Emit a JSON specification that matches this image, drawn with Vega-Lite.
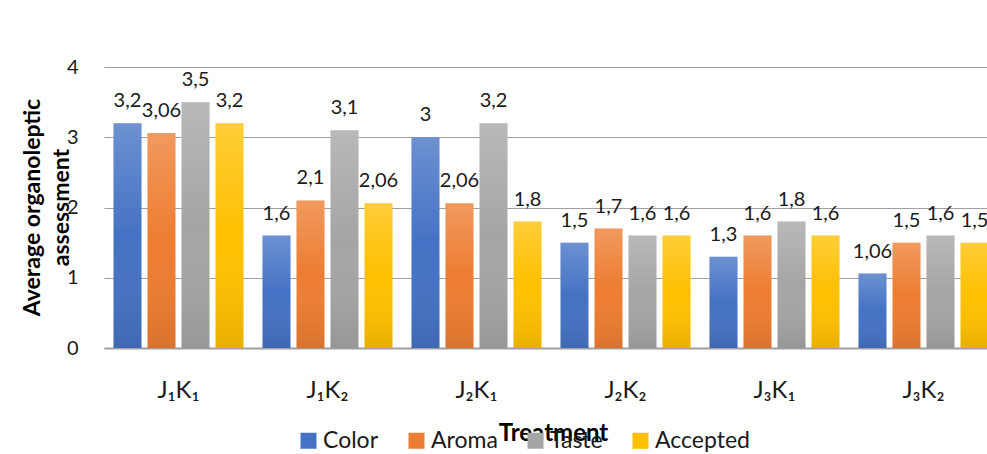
{
  "$schema": "https://vega.github.io/schema/vega-lite/v6.json",
  "width": 883,
  "height": 281,
  "autosize": {"type": "none"},
  "padding": {"left": 104, "top": 67, "right": 0, "bottom": 106},
  "background": "white",
  "data": {
    "values": [
      {"treatment": "J₁K₁", "series": "Color", "value": 3.2},
      {"treatment": "J₁K₁", "series": "Aroma", "value": 3.06},
      {"treatment": "J₁K₁", "series": "Taste", "value": 3.5},
      {"treatment": "J₁K₁", "series": "Accepted", "value": 3.2},
      {"treatment": "J₁K₂", "series": "Color", "value": 1.6},
      {"treatment": "J₁K₂", "series": "Aroma", "value": 2.1},
      {"treatment": "J₁K₂", "series": "Taste", "value": 3.1},
      {"treatment": "J₁K₂", "series": "Accepted", "value": 2.06},
      {"treatment": "J₂K₁", "series": "Color", "value": 3},
      {"treatment": "J₂K₁", "series": "Aroma", "value": 2.06},
      {"treatment": "J₂K₁", "series": "Taste", "value": 3.2},
      {"treatment": "J₂K₁", "series": "Accepted", "value": 1.8},
      {"treatment": "J₂K₂", "series": "Color", "value": 1.5},
      {"treatment": "J₂K₂", "series": "Aroma", "value": 1.7},
      {"treatment": "J₂K₂", "series": "Taste", "value": 1.6},
      {"treatment": "J₂K₂", "series": "Accepted", "value": 1.6},
      {"treatment": "J₃K₁", "series": "Color", "value": 1.3},
      {"treatment": "J₃K₁", "series": "Aroma", "value": 1.6},
      {"treatment": "J₃K₁", "series": "Taste", "value": 1.8},
      {"treatment": "J₃K₁", "series": "Accepted", "value": 1.6},
      {"treatment": "J₃K₂", "series": "Color", "value": 1.06},
      {"treatment": "J₃K₂", "series": "Aroma", "value": 1.5},
      {"treatment": "J₃K₂", "series": "Taste", "value": 1.6},
      {"treatment": "J₃K₂", "series": "Accepted", "value": 1.5}
    ]
  },
  "encoding": {
    "x": {
      "field": "treatment",
      "type": "nominal",
      "sort": null,
      "scale": {"range": [0, 894], "paddingInner": 0, "paddingOuter": 0},
      "axis": {
        "title": "Treatment",
        "titleFont": "Lato",
        "titleFontWeight": "bold",
        "titleFontSize": 24,
        "titleColor": "#000000",
        "titleX": 449,
        "titleY": 85,
        "titleAnchor": "start",
        "titleAlign": "center",
        "titleBaseline": "middle",
        "labelFont": "Lato",
        "labelFontSize": 24,
        "labelColor": "#1a1a1a",
        "labelPadding": 30,
        "labelAngle": 0,
        "ticks": false,
        "domainColor": "#a0a0a0",
        "domainWidth": 2,
        "grid": false
      }
    },
    "xOffset": {
      "field": "series",
      "type": "nominal",
      "sort": ["Color", "Aroma", "Taste", "Accepted"],
      "scale": {"paddingInner": 0.1765, "paddingOuter": 0.279}
    },
    "y": {
      "field": "value",
      "type": "quantitative",
      "scale": {"domain": [0, 4], "nice": false},
      "axis": {
        "values": [0, 1, 2, 3, 4],
        "format": "d",
        "title": ["Average organoleptic", "assessment"],
        "titleFont": "Lato",
        "titleFontWeight": "bold",
        "titleFontSize": 23,
        "titleColor": "#000000",
        "titleAngle": -90,
        "titleX": -72,
        "titleY": 140,
        "titleAlign": "center",
        "titleBaseline": "middle",
        "titleLineHeight": 29,
        "labelFont": "Lato",
        "labelFontSize": 20,
        "labelColor": "#1a1a1a",
        "labelPadding": 26,
        "ticks": false,
        "domain": false,
        "grid": true,
        "gridColor": "#a0a0a0",
        "gridWidth": 1
      }
    }
  },
  "layer": [
    {
      "mark": {"type": "bar"},
      "encoding": {
        "y2": {"datum": 0},
        "color": {
          "field": "series",
          "type": "nominal",
          "sort": ["Color", "Aroma", "Taste", "Accepted"],
          "scale": {
            "domain": ["Color", "Aroma", "Taste", "Accepted"],
            "range": ["#4472C4", "#ED7D31", "#A5A5A5", "#FFC000"]
          },
          "legend": {
            "title": null,
            "orient": "none",
            "direction": "horizontal",
            "legendX": 193,
            "legendY": 362,
            "symbolType": "square",
            "symbolSize": 256,
            "symbolStrokeWidth": 0,
            "symbolOpacity": 1,
            "labelFont": "Lato",
            "labelFontSize": 23,
            "labelColor": "#1a1a1a",
            "labelOffset": 3,
            "columnPadding": 26,
            "padding": 0
          }
        }
      }
    },
    {
      "mark": {
        "type": "bar",
        "fill": {
          "gradient": "linear",
          "x1": 0, "y1": 0, "x2": 0, "y2": 1,
          "stops": [
            {"offset": 0, "color": "rgba(255,255,255,0.22)"},
            {"offset": 0.5, "color": "rgba(255,255,255,0)"},
            {"offset": 1, "color": "rgba(0,0,0,0.09)"}
          ]
        }
      },
      "encoding": {"y2": {"datum": 0}}
    },
    {
      "mark": {
        "type": "text",
        "dy": -22,
        "baseline": "middle",
        "align": "center",
        "font": "Lato",
        "fontSize": 20,
        "color": "#1a1a1a"
      },
      "encoding": {
        "text": {"field": "value", "type": "quantitative", "format": "~g"}
      }
    }
  ],
  "config": {
    "view": {"stroke": null},
    "font": "Lato",
    "locale": {
      "number": {
        "decimal": ",",
        "thousands": ".",
        "grouping": [3],
        "currency": ["", " €"]
      }
    }
  }
}
